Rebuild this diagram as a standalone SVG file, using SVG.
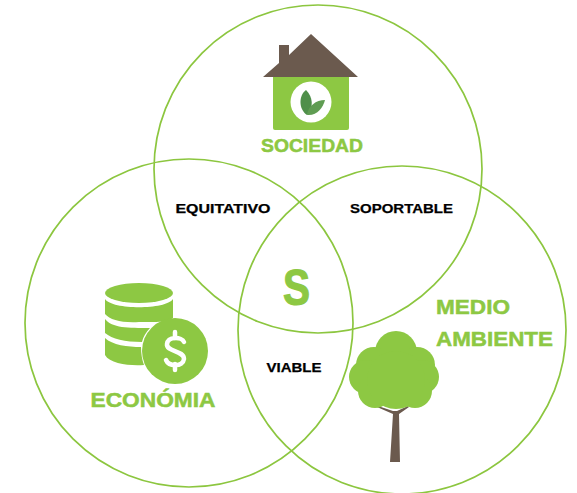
<svg xmlns="http://www.w3.org/2000/svg" width="577" height="493" viewBox="0 0 577 493">
<style>
.c{fill:none;stroke:#8cc63f;stroke-width:1.7}
.g{fill:#8dc843}
.b{fill:#6b5a4e}
.t{font-family:"Liberation Sans",sans-serif;font-weight:700;fill:#8dc843;stroke:#8dc843;stroke-width:.5}
.k{font-family:"Liberation Sans",sans-serif;font-weight:700;fill:#000;stroke:#000;stroke-width:.25;font-size:13px}
</style>
<rect width="577" height="493" fill="#fff"/>
<g id="connectors">
<circle class="c" cx="318" cy="169" r="164"/>
<circle class="c" cx="189" cy="323" r="164"/>
<circle class="c" cx="402" cy="330" r="164"/>
</g>
<g id="sociedad">
<path class="g" d="M273 77H349V128Q349 130 347 130H275Q273 130 273 128Z"/>
<path class="b" d="M263 77L279 63V45H289V55L311 34L358 77Z"/>
<circle cx="311" cy="102" r="20.5" fill="#fff"/>
<path d="M306 90C298 96 299 110 307 115C314 107 313 97 306 90Z" fill="#4f8f4a"/>
<path d="M325 100C316 100 308 106 307 115C317 116 323 108 325 100Z" fill="#5f9c52"/>
<text class="t" x="312" y="152" font-size="18" text-anchor="middle" textLength="102" lengthAdjust="spacingAndGlyphs">SOCIEDAD</text>
</g>
<g id="economia">
<ellipse class="g" cx="139" cy="293" rx="34" ry="10"/>
<path class="g" d="M105 299C112 310 166 310 173 299V318C166 323 150 322 139 322C122 323 110 320 105 314Z"/>
<path class="g" d="M105 319C112 328 128 328 150 328C146 332 143 337 142 342C125 342 112 339 105 333Z"/>
<path class="g" d="M105 338C112 345 128 347 141 347C141 353 142 360 144 365C130 366 110 364 105 355Z"/>
<circle class="g" cx="175" cy="351" r="33"/>
<path d="M184 342C182 337 168 336 167 344C166 352 184 350 184 359C183 367 169 367 166 360" fill="none" stroke="#fff" stroke-width="4.500" stroke-linecap="round"/>
<path d="M175 332V338M175 364V370" stroke="#fff" stroke-width="4.500" stroke-linecap="round"/>
<text class="t" x="153" y="407" font-size="20.500" text-anchor="middle" textLength="125" lengthAdjust="spacingAndGlyphs">ECONÓMIA</text>
</g>
<g id="medio-ambiente">
<path class="b" d="M390 462L393 414L377 407L378 406L393 411H397L408 406L409 407L399 414L400 462Z"/>
<g class="g">
<circle cx="396" cy="352" r="21"/>
<circle cx="374" cy="365" r="18"/>
<circle cx="417" cy="365" r="18"/>
<circle cx="366" cy="377" r="17"/>
<circle cx="422" cy="377" r="17"/>
<circle cx="375" cy="391" r="17"/>
<circle cx="415" cy="391" r="17"/>
<circle cx="396" cy="380" r="29"/>
</g>
<text class="t" x="436" y="314" font-size="20.500" textLength="74" lengthAdjust="spacingAndGlyphs">MEDIO</text>
<text class="t" x="436" y="346" font-size="20.500" textLength="117" lengthAdjust="spacingAndGlyphs">AMBIENTE</text>
</g>
<g id="labels">
<text class="k" x="223" y="212.500" text-anchor="middle" textLength="95" lengthAdjust="spacingAndGlyphs">EQUITATIVO</text>
<text class="k" x="401.500" y="212.500" text-anchor="middle" textLength="103" lengthAdjust="spacingAndGlyphs">SOPORTABLE</text>
<text class="k" x="294" y="372" text-anchor="middle" textLength="55" lengthAdjust="spacingAndGlyphs">VIABLE</text>
<text class="t" x="296.500" y="305" font-size="50" text-anchor="middle" textLength="27" lengthAdjust="spacingAndGlyphs" style="stroke-width:1.200">S</text>
</g>
</svg>
